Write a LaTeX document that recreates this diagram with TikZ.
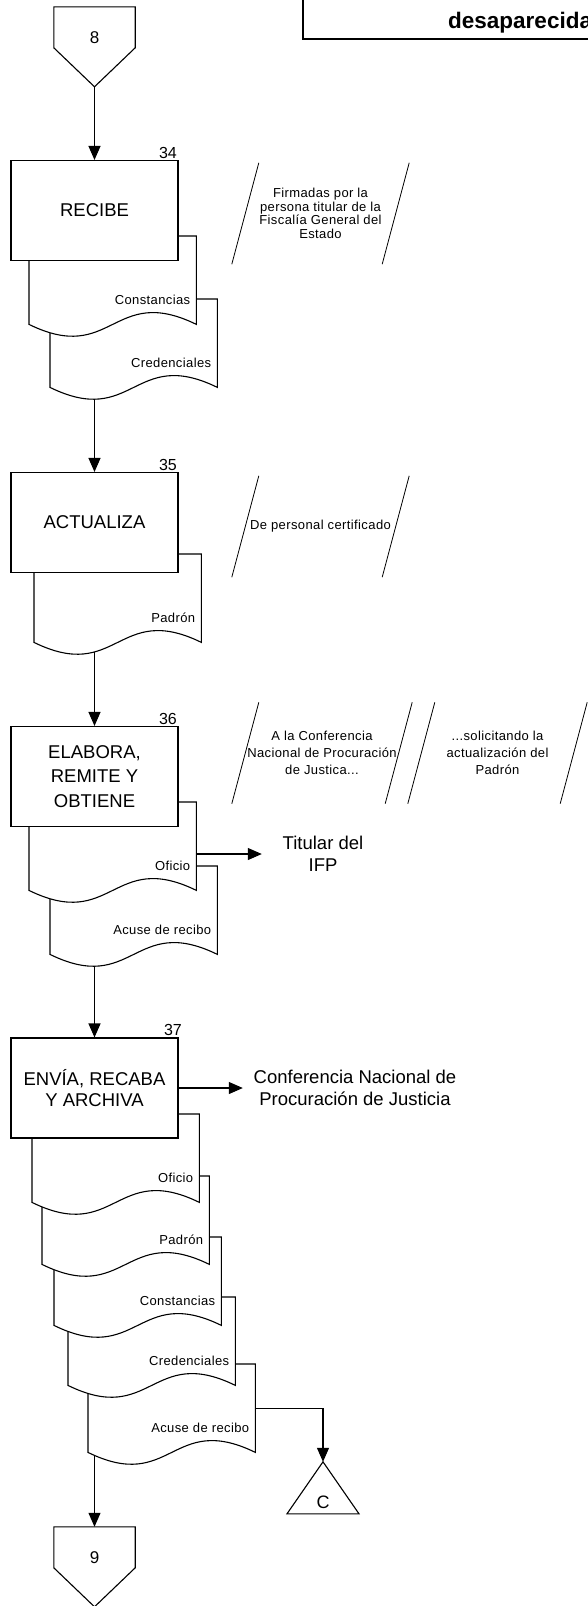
\documentclass[tikz,border=0pt]{standalone}
\usepackage{fontspec}
\setmainfont{Liberation Sans}
\newfontfamily\notafont[LetterSpace=3]{Liberation Sans}
\usetikzlibrary{arrows.meta, positioning, calc}
\pgfdeclarelayer{background}
\pgfdeclarelayer{shapes}
\pgfsetlayers{background,shapes,main}

% document shape: name, top-left corner, text
\newcommand{\documento}[3]{%
  \node[docbox] (#1) at (#2) {};
  \draw[docline] (#1.north west) -- (#1.north east) -- (#1.south east)
    .. controls ($(#1.south)+(0,-41)$) and ($(#1.south)+(0,41)$) .. (#1.south west) -- cycle;
  \node[doctext] (#1-t) at ($(#1.south east)+(-6,-25)$) {#3};
}

\begin{document}
\begin{tikzpicture}[
    x=1pt, y=-1pt,
    box/.style={
        rectangle,
        draw=black,
        line width=1.1pt,
        fill=white,
        inner sep=0,
        minimum width=167,
        minimum height=100,
        align=center,
        font=\fontsize{18.5}{21}\selectfont
    },
    numlabel/.style={font=\fontsize{16}{18}\selectfont, inner sep=1.5pt, anchor=south east},
    docbox/.style={rectangle, inner sep=0, minimum width=167, minimum height=88, anchor=north west},
    docline/.style={draw=black, line width=1.1pt, fill=white},
    doctext/.style={font=\notafont\fontsize{13}{15}\selectfont, inner sep=0, anchor=east},
    offpage/.style={rectangle, inner sep=0, minimum width=81, minimum height=61, font=\fontsize{17}{19}\selectfont},
    nota/.style={rectangle, inner sep=0, minimum height=101, align=center, font=\notafont\fontsize{13}{13.5}\selectfont},
    slash/.style={line width=0.8pt},
    destino/.style={align=center, inner sep=0, font=\fontsize{18.5}{21.5}\selectfont},
    arrow/.style={-{Triangle[length=14pt, width=12pt]}, line width=1.1pt}
]
\useasboundingbox (0,0) rectangle (587,1606);

% header
\draw[line width=1.8pt] (303,-10) |- (620,39);
\node[anchor=base west, inner sep=0, font=\fontsize{22.5}{25}\selectfont\bfseries] (titulo) at (448,28) {desaparecida};

\node[offpage] (p8) at (94.5,37.5) {8};

\node[box, label={[numlabel]north east:34}] (recibe) at (94.5,210.5) {RECIBE};
\node[box, label={[numlabel]north east:35}] (actualiza) at (94.5,522.5) {ACTUALIZA};
\node[box, font=\fontsize{18.5}{24.5}\selectfont, label={[numlabel]north east:36}] (elabora) at (94.5,776.5) {ELABORA,\\REMITE Y\\OBTIENE};
\node[box, label={[numlabel, xshift=5pt]north east:37}] (envia) at (94.5,1088) {ENVÍA, RECABA\\Y ARCHIVA};

\node[offpage] (p9) at (94.5,1557.5) {9};

\node[destino, minimum width=122] (titular) at (323,854) {Titular del\\IFP};
\node[destino, minimum width=224] (conferencia) at (355,1088) {Conferencia Nacional de\\Procuración de Justicia};
\node[rectangle, inner sep=0, minimum width=72, minimum height=80, font=\fontsize{18}{20}\selectfont] (conC) at (323,1502) {C};

\node[nota, minimum width=177] (nota34) at (320.5,213.5) {Firmadas por la\\persona titular de la\\Fiscalía General del\\Estado};
\node[nota, minimum width=177] (nota35) at (320.5,526.5) {De personal certificado};
\node[nota, minimum width=180, font=\notafont\fontsize{13}{17}\selectfont] (nota36a) at (322,753) {A la Conferencia\\Nacional de Procuración\\de Justica...};
\node[nota, minimum width=179, font=\notafont\fontsize{13}{17}\selectfont] (nota36b) at (497.5,753) {...solicitando la\\actualización del\\Padrón};

\foreach \n in {nota34, nota35, nota36a, nota36b}
    \draw[slash] (\n.south west) -- ($(\n.north west)+(27,0)$)
        ($(\n.south east)+(-27,0)$) -- (\n.north east);

\begin{pgfonlayer}{shapes}
% connectors
\foreach \p in {p8, p9}
    \draw[docline] (\p.north west) -- (\p.north east) -- ($(\p.north east)+(0,41)$)
        -- ($(\p.north)+(0,80)$) -- ($(\p.north west)+(0,41)$) -- cycle;
\draw[docline] (conC.north) -- ($(conC.north)+(36,52)$) -- ($(conC.north)+(-36,52)$) -- cycle;

% documents, lowest first
\documento{cred34}{50,299}{Credenciales}
\documento{cons34}{29,236}{Constancias}
\documento{pad35}{34,554}{Padrón}
\documento{acu36}{50,866}{Acuse de recibo}
\documento{ofi36}{29,802}{Oficio}
\documento{acu37}{88,1364}{Acuse de recibo}
\documento{cred37}{68,1297}{Credenciales}
\documento{cons37}{54,1237}{Constancias}
\documento{pad37}{42,1176}{Padrón}
\documento{ofi37}{32,1114}{Oficio}
\end{pgfonlayer}

\begin{pgfonlayer}{background}
\draw[arrow] (p8) -- (recibe);
\draw[arrow] (recibe) -- (actualiza);
\draw[arrow] (actualiza) -- (elabora);
\draw[arrow] (elabora) -- (envia);
\draw[arrow] (envia) -- (p9);
\draw[arrow] (ofi36.east |- titular.west) -- (titular.west);
\draw[arrow] (envia) -- (conferencia);
\draw[arrow] (acu37.east) -| (conC.north);
\end{pgfonlayer}

\end{tikzpicture}
\end{document}
